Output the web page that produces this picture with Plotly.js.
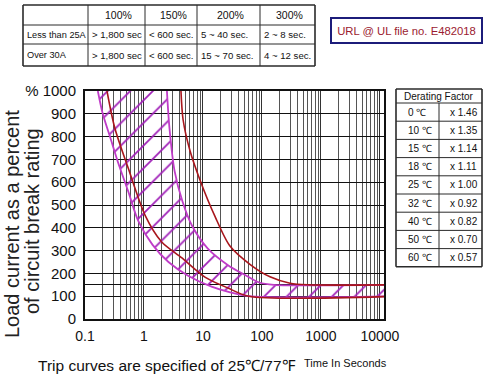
<!DOCTYPE html>
<html>
<head>
<meta charset="utf-8">
<script src="https://cdn.plot.ly/plotly-3.0.1.min.js"></script>
<style>html,body{margin:0;padding:0;background:#fff;}#chart{width:488px;height:381px;}</style>
</head>
<body>
<div id="chart"></div>
<script>
// ---- Trip curve data (time in seconds, load in % of rating) ----
const minCurveT = [0.165, 0.2, 0.265, 0.36, 0.54, 0.8, 1.4, 2.6, 5.6, 14, 28, 60, 20000];
const minCurveV = [1000, 900, 800, 690, 560, 430, 325, 250, 190, 142, 118, 100, 100];

const maxCurveT = [2.45, 2.7, 3.3, 4.5, 6.5, 12, 27, 50, 90, 160, 20000];
const maxCurveV = [1000, 840, 650, 515, 410, 310, 235, 195, 160, 150, 150];

const redCurveAT = [0.236, 0.32, 0.54, 1.04, 2.0, 4.4, 10.8, 26.5, 60, 20000];
const redCurveAV = [1000, 838, 662, 456, 338, 268, 184, 136, 100, 100];

const redCurveBT = [4.24, 4.6, 6.0, 8.9, 16, 28.7, 62.6, 137, 300, 600, 20000];
const redCurveBV = [1000, 875, 740, 610, 450, 320, 240, 185, 157, 150, 150];

// ---- Axis ticks ----
const xTickVals = [0.1, 1, 10, 100, 1000, 10000];
const xTickText = ['0.1', '1', '10', '100', '1000', '10000'];
const yTickVals = [0, 100, 200, 300, 400, 500, 600, 700, 800, 900, 1000];
const yTickText = ['0', '100', '200', '300', '400', '500', '600', '700', '800', '900', '%\u00a01000'];
const yExtraGrid = [150];

// ---- Trip time table ----
const tableHeader = ['', '100%', '150%', '200%', '300%'];
const tableRowLabels = ['Less than 25A', 'Over 30A'];
const trip100 = ['> 1,800 sec', '> 1,800 sec'];
const trip150 = ['< 600 sec.', '< 600 sec.'];
const trip200 = ['5 ~ 40 sec.', '15 ~ 70 sec.'];
const trip300 = ['2 ~ 8 sec.', '4 ~ 12 sec.'];

// ---- Derating table ----
const deratingTitle = 'Derating Factor';
const deratingTemps = ['0 \u2103', '10 \u2103', '15 \u2103', '18 \u2103', '25 \u2103', '32 \u2103', '40 \u2103', '50 \u2103', '60 \u2103'];
const deratingFactors = ['x 1.46', 'x 1.35', 'x 1.14', 'x 1.11', 'x 1.00', 'x 0.92', 'x 0.82', 'x 0.70', 'x 0.57'];

// ---- Texts ----
const urlText = 'URL @ UL file no. E482018';
const yTitle1 = 'Load current as a percent';
const yTitle2 = 'of circuit break rating';
const caption = 'Trip curves are specified of 25\u2103/77\u2109';
const xTitle = 'Time In Seconds';

// ---- Layout helpers (pixel geometry of the page) ----
const W = 488, H = 381;
const px = x => x / W;
const py = y => 1 - y / H;

const MAG = '#c03cc8';
const RED = '#a8161c';
const SANS = '"Liberation Sans", Arial, sans-serif';
const LINE = '#2a2a2a';

const shapes = [];
const annotations = [];

function hLine(x0, x1, y, w) {
  shapes.push({type: 'line', xref: 'paper', yref: 'paper', x0: px(x0), x1: px(x1), y0: py(y), y1: py(y),
    line: {color: LINE, width: w}});
}
function vLine(x, y0, y1, w) {
  shapes.push({type: 'line', xref: 'paper', yref: 'paper', x0: px(x), x1: px(x), y0: py(y0), y1: py(y1),
    line: {color: LINE, width: w}});
}
function cellText(text, x, y, anchor, size) {
  annotations.push({xref: 'paper', yref: 'paper', x: px(x), y: py(y), xanchor: anchor, yanchor: 'middle',
    text: text, showarrow: false, font: {family: SANS, size: size, color: '#111'}});
}

// Top trip-time table
const tColX = [23, 88, 145, 197, 260, 315];
const tRowY = [5, 25, 44, 66];
tRowY.forEach((y, i) => hLine(tColX[0], tColX[tColX.length - 1], y, (i === 0 || i === tRowY.length - 1) ? 1.6 : 1));
tColX.forEach((x, i) => vLine(x, tRowY[0], tRowY[tRowY.length - 1], (i === 0 || i === tColX.length - 1) ? 1.6 : 1));
const tColumns = [tableRowLabels, trip100, trip150, trip200, trip300];
tableHeader.forEach((h, c) => {
  if (h) cellText(h, (tColX[c] + tColX[c + 1]) / 2 + 2, (tRowY[0] + tRowY[1]) / 2, 'center', 10.5);
});
tColumns.forEach((col, c) => {
  col.forEach((v, r) => cellText(v, tColX[c] + 2, (tRowY[r + 1] + tRowY[r + 2]) / 2, 'left', c === 0 ? 9.2 : 9.6));
});

// Derating table
const dColX = [396, 439, 482];
const dTop = 89, dTitleBottom = 103, dRowH = 18.2;
const dRowY = [dTitleBottom];
deratingTemps.forEach((_, i) => dRowY.push(dTitleBottom + dRowH * (i + 1)));
const dBottom = dRowY[dRowY.length - 1];
hLine(dColX[0], dColX[2], dTop, 1.6);
dRowY.forEach((y, i) => hLine(dColX[0], dColX[2], y, i === dRowY.length - 1 ? 1.6 : 1));
vLine(dColX[0], dTop, dBottom, 1.6);
vLine(dColX[2], dTop, dBottom, 1.6);
vLine(dColX[1], dTitleBottom, dBottom, 1);
cellText(deratingTitle, dColX[0] + 6, (dTop + dTitleBottom) / 2, 'left', 10);
deratingTemps.forEach((t, i) => {
  const yc = (dRowY[i] + dRowY[i + 1]) / 2;
  cellText(t, dColX[0] + 10, yc, 'left', 10);
  cellText(deratingFactors[i], dColX[1] + 9, yc, 'left', 10);
});

// URL box
annotations.push({
  xref: 'paper', yref: 'paper', x: px(406.5), y: py(30.5), xanchor: 'center', yanchor: 'middle',
  text: urlText, showarrow: false, width: 147, height: 21,
  font: {family: SANS, size: 11.3, color: '#9b1b30'},
  bordercolor: '#1c1c7a', borderwidth: 2, borderpad: 1, bgcolor: '#fff'
});
// Y axis title (two rotated lines)
annotations.push({
  xref: 'paper', yref: 'paper', x: px(12), y: py(224), xanchor: 'center', yanchor: 'middle',
  text: yTitle1, textangle: -90, showarrow: false, font: {family: SANS, size: 20, color: '#222'}
});
annotations.push({
  xref: 'paper', yref: 'paper', x: px(32), y: py(221), xanchor: 'center', yanchor: 'middle',
  text: yTitle2, textangle: -90, showarrow: false, font: {family: SANS, size: 20, color: '#222'}
});
// Bottom texts
annotations.push({
  xref: 'paper', yref: 'paper', x: px(167), y: py(365), xanchor: 'center', yanchor: 'middle',
  text: caption, showarrow: false, font: {family: SANS, size: 15.5, color: '#111'}
});
annotations.push({
  xref: 'paper', yref: 'paper', x: px(345), y: py(363), xanchor: 'center', yanchor: 'middle',
  text: xTitle, showarrow: false, font: {family: SANS, size: 11, color: '#111'}
});

const traces = [
  {
    type: 'scatter', mode: 'lines', x: maxCurveT, y: maxCurveV,
    line: {color: MAG, width: 1.8, shape: 'spline', smoothing: 0.8},
    hoverinfo: 'skip', showlegend: false
  },
  {
    type: 'scatter', mode: 'lines', x: minCurveT, y: minCurveV,
    line: {color: MAG, width: 1.8, shape: 'spline', smoothing: 0.8},
    fill: 'tonexty', fillcolor: 'rgba(0,0,0,0)',
    fillpattern: {shape: '/', fgcolor: '#a020b8', bgcolor: 'rgba(0,0,0,0)', size: 16, solidity: 0.11},
    hoverinfo: 'skip', showlegend: false
  },
  {
    type: 'scatter', mode: 'lines', x: redCurveAT, y: redCurveAV,
    line: {color: RED, width: 1.6, shape: 'spline', smoothing: 0.8},
    hoverinfo: 'skip', showlegend: false
  },
  {
    type: 'scatter', mode: 'lines', x: redCurveBT, y: redCurveBV,
    line: {color: RED, width: 1.6, shape: 'spline', smoothing: 0.8},
    hoverinfo: 'skip', showlegend: false
  }
];

const layout = {
  width: W, height: H,
  margin: {l: 0, r: 0, t: 0, b: 0},
  paper_bgcolor: '#fff', plot_bgcolor: '#fff',
  showlegend: false,
  xaxis: {
    type: 'log', range: [-1, 4.07], domain: [px(85), px(384)],
    tickmode: 'array', tickvals: xTickVals, ticktext: xTickText,
    ticks: '', ticklabelstandoff: 3,
    tickfont: {family: SANS, size: 14, color: '#111'},
    showgrid: true, gridcolor: '#333', gridwidth: 1,
    minor: {dtick: 'D1', showgrid: true, gridcolor: '#555', gridwidth: 1, ticks: ''},
    showline: true, linecolor: '#111', linewidth: 2, mirror: true,
    zeroline: false, fixedrange: true
  },
  yaxis: {
    range: [0, 1000], domain: [py(319), py(91)],
    tickmode: 'array', tickvals: yTickVals, ticktext: yTickText,
    ticks: '', ticklabelstandoff: 4,
    tickfont: {family: SANS, size: 15, color: '#111'},
    showgrid: true, gridcolor: '#111', gridwidth: 1,
    minor: {tickmode: 'array', tickvals: yExtraGrid, showgrid: true, gridcolor: '#111', gridwidth: 1, ticks: ''},
    showline: true, linecolor: '#111', linewidth: 2, mirror: true,
    zeroline: false, fixedrange: true
  },
  shapes: shapes,
  annotations: annotations
};

Plotly.newPlot('chart', traces, layout, {staticPlot: true, displayModeBar: false});
</script>
</body>
</html>
